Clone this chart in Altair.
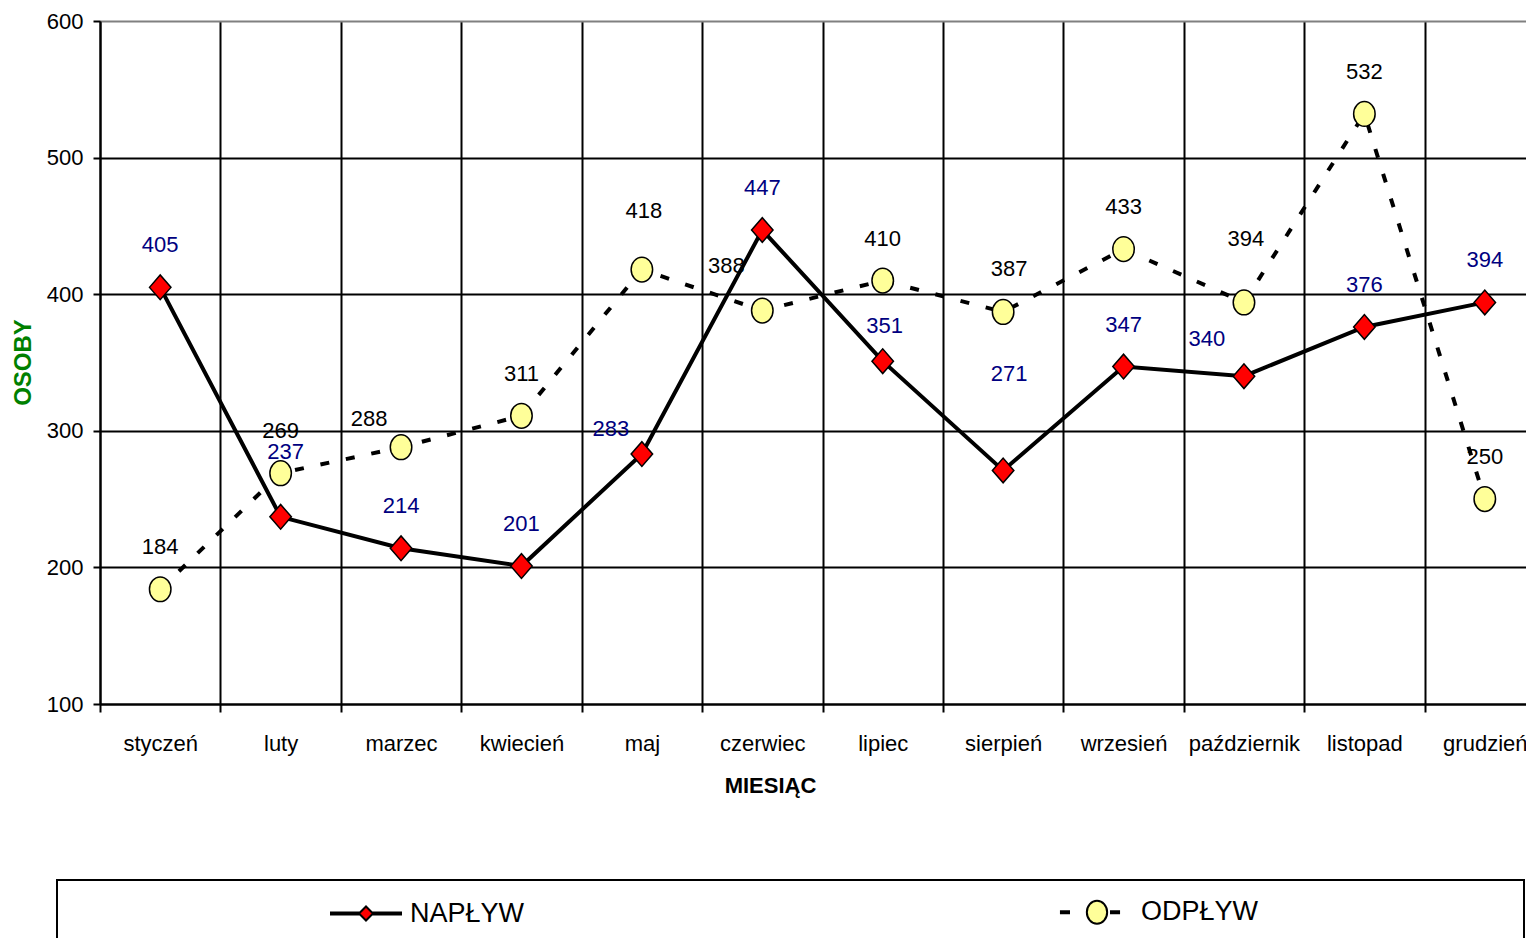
import altair as alt
import pandas as pd

# ---- data ----
months = ["styczeń", "luty", "marzec", "kwiecień", "maj", "czerwiec",
          "lipiec", "sierpień", "wrzesień", "październik", "listopad", "grudzień"]
naplyw = [405, 237, 214, 201, 283, 447, 351, 271, 347, 340, 376, 394]
odplyw = [184, 269, 288, 311, 418, 388, 410, 387, 433, 394, 532, 250]
series_names = ["NAPŁYW", "ODPŁYW"]
y_ticks = [100, 200, 300, 400, 500, 600]

# ---- styles (label nudges in px, not data) ----
DEFAULT_NUDGE = (0, -42)
nap_nudge = {"luty": (5, -65), "maj": (-31, -25), "lipiec": (2, -35),
             "sierpień": (6, -96), "październik": (-37, -37)}
odp_nudge = {"marzec": (-32, -28), "maj": (2, -59), "czerwiec": (-36, -45),
             "sierpień": (6, -43), "październik": (2, -63)}

rows = []
for name, vals, nud in [(series_names[0], naplyw, nap_nudge), (series_names[1], odplyw, odp_nudge)]:
    for m, v in zip(months, vals):
        dx, dy = nud.get(m, DEFAULT_NUDGE)
        rows.append({"month": m, "series": name, "value": v, "ldx": dx, "ldy": dy})
df = pd.DataFrame(rows)

FONT = "Liberation Sans"
diamond_path = "M-1,0L0,-1.15L1,0L0,1.15Z"
ellipse_path = "M1,0A1,1.15 0 1,1 -1,0A1,1.15 0 1,1 1,0Z"
leg_nap = ("M-1,-0.03H-0.2V0.03H-1Z M0.2,-0.03H1V0.03H0.2Z "
           "M-0.2,0L0,-0.2L0.2,0L0,0.2Z")
leg_odp = ("M-1.03,-0.03H-0.8V0.03H-1.03Z M0.4,-0.03H0.63V0.03H0.4Z "
           "M0.29,0A0.29,0.33 0 1,1 -0.29,0A0.29,0.33 0 1,1 0.29,0Z")

x_enc = alt.X("month:N", sort=months,
              scale=alt.Scale(type="band", domain=months, paddingInner=0, paddingOuter=0),
              axis=alt.Axis(tickBand="extent", grid=True, gridColor="black", gridWidth=2,
                            domainColor="black", domainWidth=2, tickColor="black",
                            tickSize=8, tickWidth=2, labelAngle=0, labelFont=FONT,
                            labelFontSize=22, labelColor="black", labelPadding=21,
                            title="MIESIĄC", titleFont=FONT, titleFontSize=22,
                            titleFontWeight="bold", titleColor="black",
                            titleX=670, titleY=88, titleBaseline="alphabetic"))
y_enc = alt.Y("value:Q", scale=alt.Scale(domain=[100, 600], nice=False, zero=False),
              axis=alt.Axis(values=y_ticks, grid=True,
                            gridColor={"condition": {"test": "datum.value === 600", "value": "#808080"},
                                       "value": "black"},
                            gridWidth=2, domainColor="black", domainWidth=2,
                            tickColor="black", tickSize=7, tickWidth=2,
                            labelFont=FONT, labelFontSize=22, labelColor="black",
                            labelPadding=10, title="OSOBY", titleFont=FONT,
                            titleFontSize=24, titleFontWeight="bold", titleColor="#008000",
                            titleX=-77, titleY=341, titleBaseline="middle"))

base = alt.Chart(df).encode(x=x_enc, y=y_enc)

line_nap = base.transform_filter(alt.datum.series == "NAPŁYW").mark_line(
    color="black", strokeWidth=4)
line_odp = base.transform_filter(alt.datum.series == "ODPŁYW").mark_line(
    color="black", strokeWidth=4, strokeDash=[9, 17])

pt_nap = base.transform_filter(alt.datum.series == "NAPŁYW").mark_point(
    shape=diamond_path, filled=True, fill="red", stroke="black", strokeWidth=1.5,
    size=462, opacity=1)
pt_odp = base.transform_filter(alt.datum.series == "ODPŁYW").mark_point(
    shape=ellipse_path, filled=True, fill="#ffff99", stroke="black", strokeWidth=1.5,
    size=462, opacity=1)

txt_nap = base.transform_filter(alt.datum.series == "NAPŁYW").mark_text(
    font=FONT, fontSize=22, color="#000080", align="center", baseline="middle",
    dx={"expr": "datum.ldx"}, dy={"expr": "datum.ldy"}).encode(text="value:Q")
txt_odp = base.transform_filter(alt.datum.series == "ODPŁYW").mark_text(
    font=FONT, fontSize=22, color="black", align="center", baseline="middle",
    dx={"expr": "datum.ldx"}, dy={"expr": "datum.ldy"}).encode(text="value:Q")

leg = alt.Legend(title=None, orient="none", legendX=230, legendY=855,
                 direction="horizontal", columns=2, columnPadding=531,
                 symbolSize=4900, symbolStrokeColor="black", symbolStrokeWidth=2,
                 symbolOpacity=1, labelFont=FONT, labelFontSize=27, labelColor="black",
                 labelOffset=8, padding=0)
legend_layer = alt.Chart(df).transform_filter("false").mark_point(
    filled=True, stroke="black", strokeWidth=2, opacity=1).encode(
    shape=alt.Shape("series:N", scale=alt.Scale(domain=series_names, range=[leg_nap, leg_odp]),
                    legend=leg),
    fill=alt.Fill("series:N", scale=alt.Scale(domain=series_names, range=["red", "#ffff99"]),
                  legend=leg),
    stroke=alt.Stroke("series:N", scale=alt.Scale(domain=series_names, range=["black", "black"]),
                      legend=leg))

frame = alt.Chart(pd.DataFrame({"a": [0]})).mark_rect(
    fill="transparent", stroke="black", strokeWidth=2).encode(
    x=alt.value(-43), x2=alt.value(1424), y=alt.value(859), y2=alt.value(1000))

chart = alt.layer(line_odp, line_nap, pt_odp, pt_nap, txt_odp, txt_nap, legend_layer, frame).properties(
    width=1445, height=683,
    autosize=alt.AutoSizeParams(type="none"),
    padding={"left": 92, "top": 13, "right": -19, "bottom": 234},
).configure(font=FONT).configure_view(stroke=None)

chart.save("out.html", embed_options={"renderer": "svg", "actions": False})
